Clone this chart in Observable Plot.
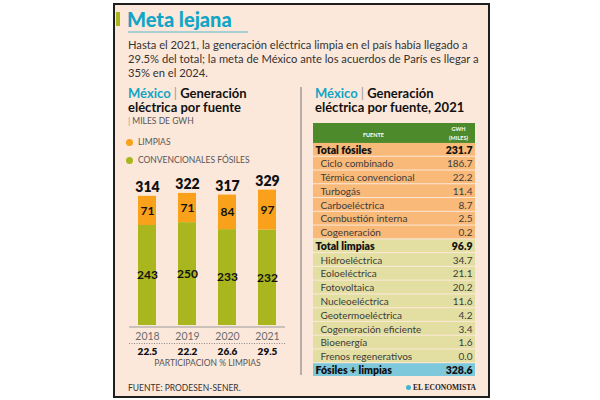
<!DOCTYPE html>
<html lang="es">
<head>
<meta charset="utf-8">
<script src="https://cdn.jsdelivr.net/npm/d3@7"></script>
<script src="https://cdn.jsdelivr.net/npm/@observablehq/plot@0.6"></script>
<style>
  html,body{margin:0;padding:0;}
  body{width:600px;height:400px;background:#ffffff;position:relative;overflow:hidden;font-family:Lato,"Open Sans",sans-serif;}
  .a{position:absolute;white-space:nowrap;}
  #panel{left:113px;top:3px;width:377px;height:395px;box-sizing:border-box;border:2px solid #1e1e1e;background:#fce8da;}
  #accent{left:116px;top:12px;width:4px;height:14px;background:#a9b61d;}
  #title{left:127px;top:9px;font-size:20px;line-height:20px;font-weight:900;color:#12a5c6;}
  #uline{left:128px;top:31px;width:120px;height:2px;background:#a9cfd4;}
  #intro{left:128px;top:38px;font-size:11.2px;line-height:14px;color:#333;}
  .sub{font-size:13px;line-height:14.5px;font-weight:700;color:#111;}
  .mx{color:#12a5c6;}
  .sep{color:#999;font-weight:400;}
  #units{left:128px;top:116px;font-size:8.5px;line-height:10px;color:#555;}
  .leg{font-size:8.5px;line-height:10px;color:#555;}
  .dot{width:7px;height:7px;border-radius:50%;}
  #divider{left:300px;top:87px;width:1.5px;height:288px;background:#b9ada5;}
  #fuente{left:128px;top:383px;font-size:8.5px;line-height:10px;color:#333;}
  #logo{left:413px;top:383px;font-size:7.5px;line-height:10px;color:#222;font-family:"Liberation Serif",serif;font-weight:700;}
  #logodot{left:406px;top:385px;width:5px;height:5px;border-radius:50%;background:#3fb6d3;}
</style>
</head>
<body>
<div id="panel" class="a"></div>
<div id="accent" class="a"></div>
<div id="title" class="a">Meta lejana</div>
<div id="uline" class="a"></div>
<div id="intro" class="a">Hasta el 2021, la generación eléctrica limpia en el país había llegado a<br>29.5% del total; la meta de México ante los acuerdos de París es llegar a<br>35% en el 2024.</div>

<div class="a sub" style="left:128px;top:85.5px;"><span class="mx">México</span> <span class="sep">|</span> Generación<br>eléctrica por fuente</div>
<div id="units" class="a"><span style="color:#999">|</span> MILES DE GWH</div>
<div class="a dot" style="left:126px;top:139px;background:#f9a11b"></div>
<div class="a leg" style="left:138px;top:137px;">LIMPIAS</div>
<div class="a dot" style="left:126px;top:157px;background:#a9b61d"></div>
<div class="a leg" style="left:138px;top:155px;">CONVENCIONALES FÓSILES</div>

<div id="divider" class="a"></div>
<div class="a sub" style="left:315px;top:85.5px;"><span class="mx">México</span> <span class="sep">|</span> Generación<br>eléctrica por fuente, 2021</div>

<div id="bars" class="a" style="left:120px;top:172px;"></div>
<div id="table" class="a" style="left:305px;top:115px;"></div>

<div id="fuente" class="a">FUENTE: PRODESEN-SENER.</div>
<div id="logodot" class="a"></div>
<div id="logo" class="a">EL ECONOMISTA</div>

<script>
// ---- Bar chart data (miles de GWh) ----
const years = ["2018", "2019", "2020", "2021"];
const limpias = [71, 71, 84, 97];
const fosiles = [243, 250, 233, 232];
const totales = [314, 322, 317, 329];
const participacion = [22.5, 22.2, 26.6, 29.5];

// ---- Table data (2021) ----
const fuentes = ["Total fósiles", "Ciclo combinado", "Térmica convencional", "Turbogás", "Carboeléctrica",
  "Combustión interna", "Cogeneración", "Total limpias", "Hidroeléctrica", "Eoloeléctrica", "Fotovoltaica",
  "Nucleoeléctrica", "Geotermoeléctrica", "Cogeneración eficiente", "Bioenergía", "Frenos regenerativos",
  "Fósiles + limpias"];
const gwh = [231.7, 186.7, 22.2, 11.4, 8.7, 2.5, 0.2, 96.9, 34.7, 21.1, 20.2, 11.6, 4.2, 3.4, 1.6, 0.0, 328.6];
const grupo = ["fósil", "fósil", "fósil", "fósil", "fósil", "fósil", "fósil",
  "limpia", "limpia", "limpia", "limpia", "limpia", "limpia", "limpia", "limpia", "limpia", "total"];
const esTotal = [true, false, false, false, false, false, false, true, false, false, false, false, false, false, false, false, true];

const GREEN = "#a9b61d", ORANGE = "#f9a11b";
const TIPOS = ["Convencionales fósiles", "Limpias"];

const stacked = years.flatMap((y, i) => [
  {year: y, tipo: TIPOS[0], value: fosiles[i]},
  {year: y, tipo: TIPOS[1], value: limpias[i]}
]);
const tot = years.map((y, i) => ({year: y, total: totales[i], part: participacion[i]}));

const barChart = Plot.plot({
  width: 175,
  height: 200,
  marginLeft: 9,
  marginRight: 10,
  marginTop: 9,
  marginBottom: 47,
  style: {background: "transparent", fontFamily: "Lato, sans-serif", overflow: "visible"},
  x: {domain: years, paddingInner: 0.557, paddingOuter: 0.2, axis: null},
  y: {domain: [0, 350], axis: null},
  color: {domain: TIPOS, range: [GREEN, ORANGE]},
  marks: [
    Plot.barY(stacked, {x: "year", y: "value", fill: "tipo"}),
    Plot.ruleY([0], {stroke: "#9a9a9a", strokeWidth: 1, dy: 1.5}),
    Plot.ruleY([0], {stroke: "#888", strokeWidth: 1, strokeDasharray: "1,1.5", dy: 18}),
    Plot.axisX({tickSize: 0, tickPadding: 7, fontSize: 10.5, fill: "#6b6b6b", label: null}),
    Plot.text(stacked, Plot.stackY({x: "year", y: "value", text: "value", fontSize: 12, fontWeight: 700, fill: "#111"})),
    Plot.text(tot, {x: "year", y: "total", text: "total", dy: -8.5, fontSize: 14, fontWeight: 800, fill: "#111"}),
    Plot.text(tot, {x: "year", y: 0, text: d => d.part.toFixed(1), dy: 26.5, fontSize: 10, fontWeight: 800, fill: "#111"}),
    Plot.text(["PARTICIPACION % LIMPIAS"], {frameAnchor: "bottom", lineAnchor: "middle", dy: 38, fontSize: 8.5, fill: "#555"})
  ]
});
document.getElementById("bars").append(barChart);

const rows = fuentes.map((f, i) => ({i, fuente: f, valor: gwh[i], grupo: grupo[i], total: esTotal[i]}));

const table = Plot.plot({
  width: 180,
  height: 270,
  marginLeft: 8,
  marginRight: 10,
  marginTop: 8,
  marginBottom: 8,
  style: {background: "transparent", fontFamily: "Lato, sans-serif", overflow: "visible"},
  x: {domain: [0, 1], axis: null},
  y: {domain: [-1.45, fuentes.length], range: [8, 262], axis: null},
  color: {domain: ["fósil", "limpia", "total"], range: ["#f9b978", "#e3dfa3", "#7ec8dc"]},
  marks: [
    Plot.rect([0], {x1: 0, x2: 1, y1: -1.45, y2: 0, fill: "#4c8a2b"}),
    Plot.rect(rows, {x1: 0, x2: 1, y1: "i", y2: d => d.i + 1, fill: "grupo", insetBottom: 1}),
    Plot.text(["FUENTE"], {x: 0.37, y: -0.62, fontSize: 5.5, fontWeight: 700, fill: "#fff"}),
    Plot.text(["GWH"], {x: 0.895, y: -1.0, fontSize: 5.5, fontWeight: 700, fill: "#fff"}),
    Plot.text(["(MILES)"], {x: 0.895, y: -0.35, fontSize: 5.5, fontWeight: 700, fill: "#fff"}),
    Plot.text(rows.filter(d => d.total), {x: 0, y: d => d.i + 0.5, text: "fuente", textAnchor: "start", dx: 2, fontSize: 10.5, fontWeight: 800, fill: "#111"}),
    Plot.text(rows.filter(d => !d.total), {x: 0, y: d => d.i + 0.5, text: "fuente", textAnchor: "start", dx: 7, fontSize: 10, fill: "#3c3c3c"}),
    Plot.text(rows.filter(d => d.total), {x: 1, y: d => d.i + 0.5, text: d => d.valor.toFixed(1), textAnchor: "end", dx: -3, fontSize: 10.5, fontWeight: 800, fill: "#111"}),
    Plot.text(rows.filter(d => !d.total), {x: 1, y: d => d.i + 0.5, text: d => d.valor.toFixed(1), textAnchor: "end", dx: -3, fontSize: 10, fill: "#3c3c3c"})
  ]
});
document.getElementById("table").append(table);
</script>
</body>
</html>
